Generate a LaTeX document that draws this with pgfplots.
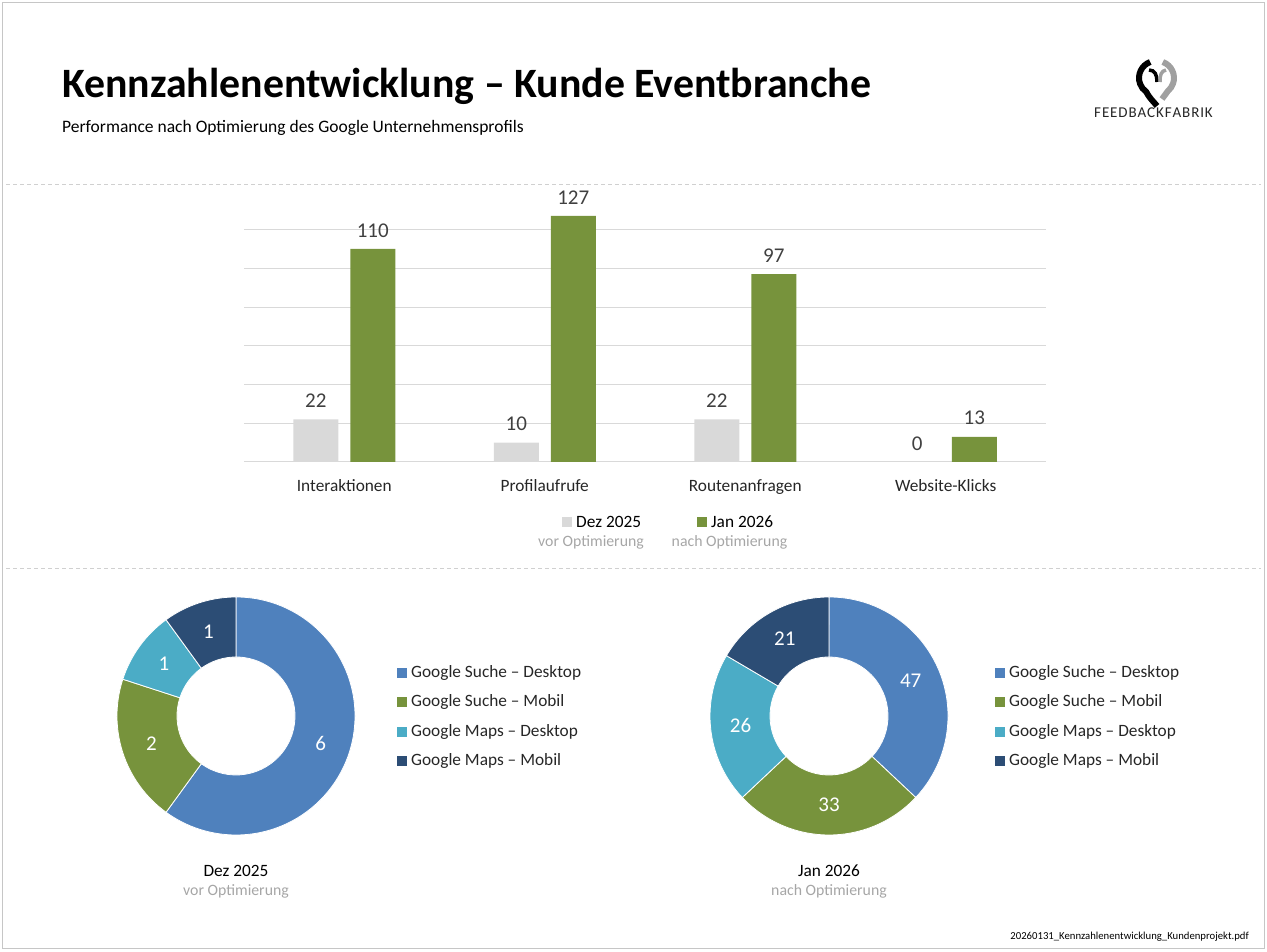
\documentclass[border=0pt]{standalone}
\usepackage{fontspec}
\setmainfont{Carlito}
\usepackage{pgfplots}
\pgfplotsset{compat=1.18}
\usepackage{pgfplotstable}

\definecolor{bargray}{HTML}{D9D9D9}
\definecolor{bargreen}{HTML}{77933C}
\definecolor{cblue}{HTML}{4F81BD}
\definecolor{cteal}{HTML}{4BACC6}
\definecolor{cnavy}{HTML}{2C4D75}
\definecolor{txtdark}{HTML}{404040}
\definecolor{txtgray}{HTML}{A6A6A6}
\definecolor{gridgray}{HTML}{D9D9D9}
\definecolor{linegray}{HTML}{D0D0D0}
\definecolor{logogray}{HTML}{A0A0A0}

\newcommand\fs[1]{\fontsize{#1bp}{#1bp}\selectfont}

% bar chart data
\pgfplotstableread{
cat dez jan
0   22  110
1   10  127
2   22  97
3   0   13
}\bardata

% donut: #1 centre x, #2 total, #3 value/colour list
\newcommand\donut[3]{%
\begin{axis}[at={(#1bp,236bp)}, anchor=center, scale only axis,
  width=240bp, height=240bp, xmin=-120, xmax=120, ymin=-120, ymax=120,
  hide axis, clip=false]
\xdef\acc{90}
\foreach \v/\c in {#3} {
  \pgfmathsetmacro\b{\acc-\v/#2*360}
  \pgfmathsetmacro\m{(\acc+\b)/2}
  \edef\temp{\noexpand\fill[\c, draw=white, line width=0.8bp]
    (axis cs:0,0) ++(\acc:119bp) arc[start angle=\acc, end angle=\b, radius=119bp]
    -- ++(\b+180:60bp) arc[start angle=\b, end angle=\acc, radius=59bp] -- cycle;
    \noexpand\path (axis cs:0,0) ++(\m:89bp) node[text=white, font=\noexpand\fs{21}] {\v};}
  \temp
  \xdef\acc{\b}
}
\end{axis}}

\newcommand\donutlegend[1]{%
  \foreach \t/\c [count=\i from 0] in {Google Suche – Desktop/cblue,Google Suche – Mobil/bargreen,
      Google Maps – Desktop/cteal,Google Maps – Mobil/cnavy} {
    \pgfmathsetmacro\yy{279-29.4*\i}
    \fill[\c] (#1,\yy-5) rectangle (#1+10,\yy+5);
    \node[anchor=west, font=\fs{17.3}, text=black!85] at (#1+14,\yy) {\t};
  }}

\begin{document}
\begin{tikzpicture}[x=1bp, y=1bp, every node/.style={inner sep=0pt}]
\path (0,0) rectangle (1267,952);
\draw[gray!45, line width=0.8bp] (2,4) rectangle (1264.5,950);
\draw[linegray, line width=0.8bp, dash pattern=on 4bp off 3bp] (6,768) -- (1261,768);
\draw[linegray, line width=0.8bp, dash pattern=on 4bp off 3bp] (6,384) -- (1261,384);

% titles
\node[anchor=base west, font=\bfseries\fs{41.8}] at (62,854) {Kennzahlenentwicklung – Kunde Eventbranche};
\node[anchor=base west, font=\fs{17.5}] at (62,819) {Performance nach Optimierung des Google Unternehmensprofils};

% logo
\draw[black, line width=6bp] (1150.2,890) arc[start angle=110, end angle=235, radius=17]
  .. controls (1150,853) and (1154,850) .. (1157,846);
\draw[black, line width=3.5bp] (1149,882) .. controls (1155,882) and (1157,877) .. (1157,870);
\draw[logogray, line width=6bp] (1162.8,890) arc[start angle=70, end angle=-50, radius=17]
  -- (1162,853);
\draw[logogray, line width=3.5bp] (1166,882) .. controls (1161,881) and (1160,877) .. (1160,870);
\node[font=\fs{15}, text=black!85] at (1153.5,839) {F\kern.9bp E\kern.9bp E\kern.9bp D\kern.9bp B\kern.9bp A\kern.9bp C\kern.9bp K\kern.9bp F\kern.9bp A\kern.9bp B\kern.9bp R\kern.9bp I\kern.9bp K};

% bar chart
\begin{axis}[at={(244bp,490bp)}, anchor=south west, scale only axis,
  width=802bp, height=271.2bp,
  xmin=-0.5, xmax=3.5, ymin=0, ymax=140,
  ytick={0,20,...,120}, yticklabels={}, ymajorgrids,
  grid style={gridgray, line width=1bp},
  axis line style={draw=none}, major tick length=0pt,
  xtick={0,1,2,3},
  xticklabels={Interaktionen,Profilaufrufe,Routenanfragen,Website-Klicks},
  xticklabel style={font=\fs{17.3}, text=black!85, inner sep=0pt, yshift=-17bp},
  clip=false,
  nodes near coords,
  every node near coord/.append style={font=\fs{21}, text=txtdark, inner sep=0pt, yshift=11.5bp},
  /pgf/number format/assume math mode=true]
\addplot[ybar, bar width=45bp, bar shift=-28.5bp, fill=bargray, draw=none,
  every node near coord/.append style={xshift=-28.5bp}] table[x=cat, y=dez] {\bardata};
\addplot[ybar, bar width=45bp, bar shift=28.5bp, fill=bargreen, draw=none,
  every node near coord/.append style={xshift=28.5bp}] table[x=cat, y=jan] {\bardata};
\end{axis}

% bar legend
\fill[bargray] (562,425) rectangle (572,435);
\node[anchor=west, font=\fs{17.3}] at (576,430) {Dez 2025};
\node[font=\fs{15.8}, text=txtgray] at (591,410) {vor Optimierung};
\fill[bargreen] (697,425) rectangle (707,435);
\node[anchor=west, font=\fs{17.3}] at (711,430) {Jan 2026};
\node[font=\fs{15.8}, text=txtgray] at (729.5,410) {nach Optimierung};

% donuts
\donut{236}{10}{6/cblue,2/bargreen,1/cteal,1/cnavy}
\donut{829}{127}{47/cblue,33/bargreen,26/cteal,21/cnavy}
\donutlegend{397}
\donutlegend{995}

\node[font=\fs{17.3}] at (236,81) {Dez 2025};
\node[font=\fs{15.8}, text=txtgray] at (236,61) {vor Optimierung};
\node[font=\fs{17.3}] at (829,81) {Jan 2026};
\node[font=\fs{15.8}, text=txtgray] at (829,61) {nach Optimierung};

\node[anchor=east, font=\fs{10.7}] at (1249,15) {20260131\_Kennzahlenentwicklung\_Kundenprojekt.pdf};
\end{tikzpicture}
\end{document}
